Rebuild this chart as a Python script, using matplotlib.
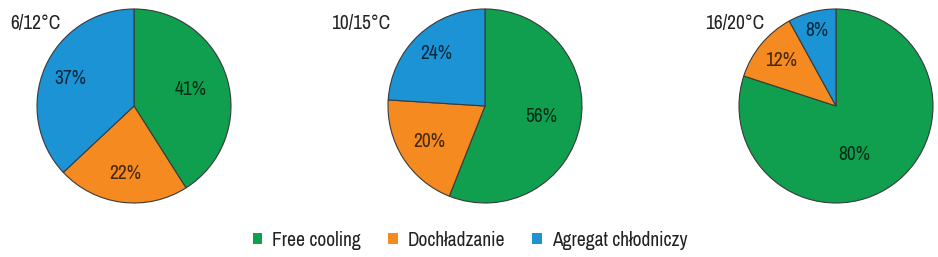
import numpy as np
import matplotlib.pyplot as plt
from matplotlib.patches import Patch

# Data
titles = ['6/12°C', '10/15°C', '16/20°C']
categories = ['Free cooling', 'Dochładzanie', 'Agregat chłodniczy']
free_cooling = [41, 56, 80]
dochladzanie = [22, 20, 12]
agregat = [37, 24, 8]
colors = ['#0f9f4e', '#f58a20', '#1c93d5']

plt.rcParams['font.family'] = ['Archivo Narrow', 'DejaVu Sans']

fig = plt.figure(figsize=(9.38, 2.57), dpi=100)
W, H = 938, 257

centers = [134, 485, 836]  # pie centres in px
cy, r = 106, 97
title_x = [10, 331, 705]
# label distance from centre (fraction of radius), per wedge
label_dist = [[0.61, 0.70, 0.72], [0.59, 0.68, 0.74], [0.52, 0.74, 0.80]]

for i, cx in enumerate(centers):
    ax = fig.add_axes([(cx - r) / W, (H - cy - r) / H, 2 * r / W, 2 * r / H])
    vals = [free_cooling[i], dochladzanie[i], agregat[i]]
    wedges, texts, autotexts = ax.pie(
        vals, colors=colors, startangle=90, counterclock=False,
        autopct='%d%%', pctdistance=0.6,
        wedgeprops=dict(edgecolor='#3a3a3a', linewidth=0.8),
        textprops=dict(fontsize=14, color='black', alpha=0.72))
    for t, d in zip(autotexts, label_dist[i]):
        x, y = t.get_position()
        t.set_position(np.array([x, y]) / np.hypot(x, y) * d)
    if i == 2:
        # the big slice label sits lower in the original
        x, y = autotexts[0].get_position()
        autotexts[0].set_position((x * 0.6, y * 1.2))
    ax.set_xlim(-1, 1)
    ax.set_ylim(-1, 1)
    ax.set_aspect('equal')
    fig.text(title_x[i] / W, 1 - 23 / H, titles[i], fontsize=14,
             va='center', ha='left', color='#222222')

handles = [Patch(facecolor=c, edgecolor='none') for c in colors]
fig.legend(handles, categories, loc='center', bbox_to_anchor=(470 / W, 1 - 240 / H),
           ncol=3, frameon=False, fontsize=14, handlelength=0.5, handleheight=0.5,
           handletextpad=0.5, columnspacing=1.4, labelcolor='#222222')

fig.savefig('out.png', dpi=100)
